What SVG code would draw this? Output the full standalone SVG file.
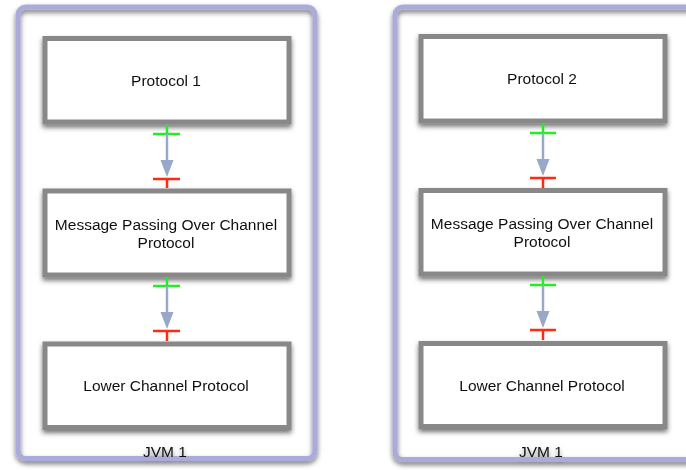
<svg xmlns="http://www.w3.org/2000/svg" width="686" height="470" viewBox="0 0 686 470">
  <defs>
    <filter id="shadow" x="-10%" y="-10%" width="120%" height="130%">
      <feGaussianBlur in="SourceAlpha" stdDeviation="2.4"/>
      <feOffset dx="0" dy="3" result="blur"/>
      <feFlood flood-color="#000" flood-opacity="0.55"/>
      <feComposite in2="blur" operator="in" result="shade"/>
      <feMerge>
        <feMergeNode in="shade"/>
        <feMergeNode in="SourceGraphic"/>
      </feMerge>
    </filter>
  </defs>
  <style>
    .jvm { fill: none; stroke: #aaaadb; stroke-width: 5; }
    .box { fill: #ffffff; stroke: #888888; stroke-width: 5; }
    .label { font-family: "Liberation Sans", Arial, Helvetica, sans-serif; font-size: 15.5px; fill: #111; text-anchor: middle; }
    .flow { stroke: #98a8c8; stroke-width: 2.5; fill: none; }
    .head { fill: #98a8c8; }
    .src { stroke: #22ee22; stroke-width: 2.5; fill: none; }
    .dst { stroke: #ff2a10; stroke-width: 2.5; fill: none; }
  </style>
  <rect width="686" height="470" fill="#ffffff"/>

  <!-- JVM containers -->
  <g id="jvm-left" filter="url(#shadow)">
    <rect class="jvm" x="18" y="7" width="297" height="451.5" rx="8"/>
    <text class="label" x="165" y="456.5">JVM 1</text>
  </g>
  <g id="jvm-right" filter="url(#shadow)">
    <rect class="jvm" x="395" y="7" width="305" height="452.5" rx="8"/>
    <text class="label" x="541" y="456.5">JVM 1</text>
  </g>

  <!-- left stack -->
  <g id="protocol-1" filter="url(#shadow)">
    <rect class="box" x="45" y="38.5" width="244" height="83.5"/>
    <text class="label" x="166" y="85.5">Protocol 1</text>
  </g>
  <g id="mpoc-left" filter="url(#shadow)">
    <rect class="box" x="45" y="191" width="244" height="84"/>
    <text class="label" x="166" y="229.5">Message Passing Over Channel</text>
    <text class="label" x="166" y="248">Protocol</text>
  </g>
  <g id="lower-left" filter="url(#shadow)">
    <rect class="box" x="45" y="344" width="244" height="83.5"/>
    <text class="label" x="166" y="391">Lower Channel Protocol</text>
  </g>

  <!-- right stack -->
  <g id="protocol-2" filter="url(#shadow)">
    <rect class="box" x="421" y="36.5" width="244" height="84.5"/>
    <text class="label" x="542" y="84">Protocol 2</text>
  </g>
  <g id="mpoc-right" filter="url(#shadow)">
    <rect class="box" x="421" y="190.5" width="244" height="83.5"/>
    <text class="label" x="542" y="228.5">Message Passing Over Channel</text>
    <text class="label" x="542" y="247">Protocol</text>
  </g>
  <g id="lower-right" filter="url(#shadow)">
    <rect class="box" x="421" y="343.5" width="244" height="83"/>
    <text class="label" x="542" y="390.5">Lower Channel Protocol</text>
  </g>

  <!-- connectors -->
  <g id="connectors">
    <!-- Protocol 1 -> Message Passing (left) -->
    <path class="src" d="M167 125 V134 M153 134 H180"/>
    <path class="flow" d="M167 134 V162"/>
    <polygon class="head" points="160.5,160 173.5,160 167,177"/>
    <path class="dst" d="M153 179 H180 M167 179 V188"/>

    <!-- Message Passing -> Lower Channel (left) -->
    <path class="src" d="M167 277 V286 M153 286 H180"/>
    <path class="flow" d="M167 286 V314"/>
    <polygon class="head" points="160.5,312 173.5,312 167,329"/>
    <path class="dst" d="M153 331 H180 M167 331 V341"/>

    <!-- Protocol 2 -> Message Passing (right) -->
    <path class="src" d="M543 123 V133 M530 133 H556"/>
    <path class="flow" d="M543 133 V161"/>
    <polygon class="head" points="536.5,159 549.5,159 543,176"/>
    <path class="dst" d="M530 178 H556 M543 178 V188"/>

    <!-- Message Passing -> Lower Channel (right) -->
    <path class="src" d="M543 276 V285 M530 285 H556"/>
    <path class="flow" d="M543 285 V313"/>
    <polygon class="head" points="536.5,311 549.5,311 543,328"/>
    <path class="dst" d="M530 330 H556 M543 330 V340"/>
  </g>
</svg>
